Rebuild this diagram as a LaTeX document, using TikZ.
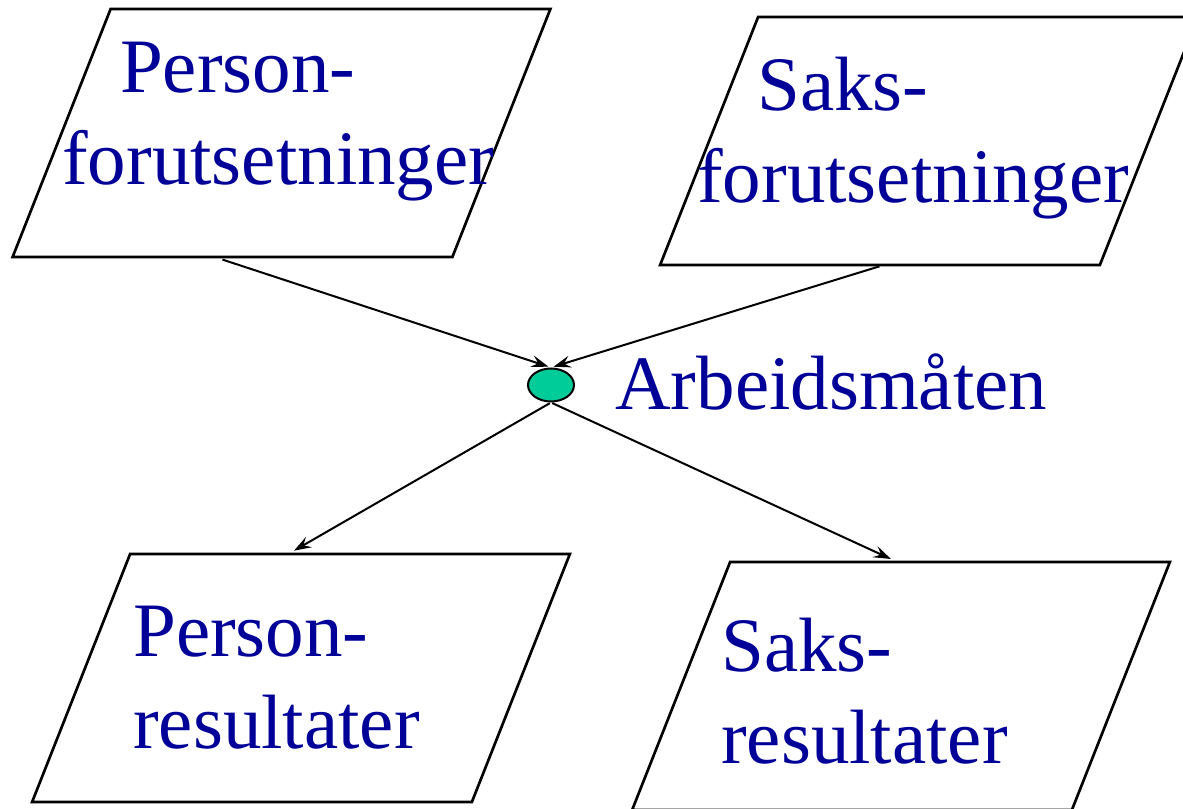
\documentclass[tikz,border=0pt]{standalone}
\usepackage{fontspec}
\setmainfont{Liberation Serif}
\usepackage{xcolor}
\usepackage{tikz}
\usetikzlibrary{shapes.geometric, arrows.meta, positioning}
\definecolor{textblue}{RGB}{0, 0, 153}
\definecolor{dotgreen}{RGB}{0, 204, 153}

\begin{document}
\begin{tikzpicture}[
    x=0.75pt, y=-0.75pt,
    para/.style={draw=black, line width=2pt, trapezium, trapezium left angle=74,
                 trapezium right angle=106, trapezium stretches=true,
                 minimum width=403.5pt, minimum height=186pt, inner sep=4pt},
    boxtext/.style={text=textblue, align=left, anchor=base west, inner sep=0pt,
                 font=\fontsize{57.75}{69}\selectfont},
    arr/.style={-{Stealth[length=13pt, width=9pt, inset=5pt]}, line width=1.5pt}
]
    \useasboundingbox (0,0) rectangle (1183,809);

    % the four boxes
    \node[para] (pf) at (281.5,133) {};
    \node[para] (sf) at (929,141) {};
    \node[para] (pr) at (301,678) {};
    \node[para] (sr) at (901,686) {};

    \node[boxtext] (pf-txt) at (62,185) {\hspace*{0.75em}Person-\\forutsetninger};
    \node[boxtext] (sf-txt) at (697,203) {\hspace*{0.78em}Saks-\\forutsetninger};
    \node[boxtext] (pr-txt) at (133,748) {Person-\\resultater};
    \node[boxtext] (sr-txt) at (721,763) {Saks-\\resultater};

    % the dot in the middle
    \node[draw=black, line width=1.5pt, ellipse, fill=dotgreen, minimum width=34.5pt,
          minimum height=24.75pt, inner sep=0pt] (arb) at (551,385) {};
    \node[boxtext] (arb-txt) at (615,410) {Arbeidsmåten};

    \draw[arr, shorten <=3pt, shorten >=2pt] ([xshift=-10pt]pf.bottom side) -- (arb.north);
    \draw[arr, shorten >=2pt] (sf.bottom side) -- (arb.north);
    \draw[arr, shorten <=1pt, shorten >=3pt] (arb.south) -- ([xshift=-45pt]pr.top side);
    \draw[arr, shorten <=1pt, shorten >=3pt] (arb.south) -- ([xshift=-42pt]sr.top side);
\end{tikzpicture}
\end{document}
